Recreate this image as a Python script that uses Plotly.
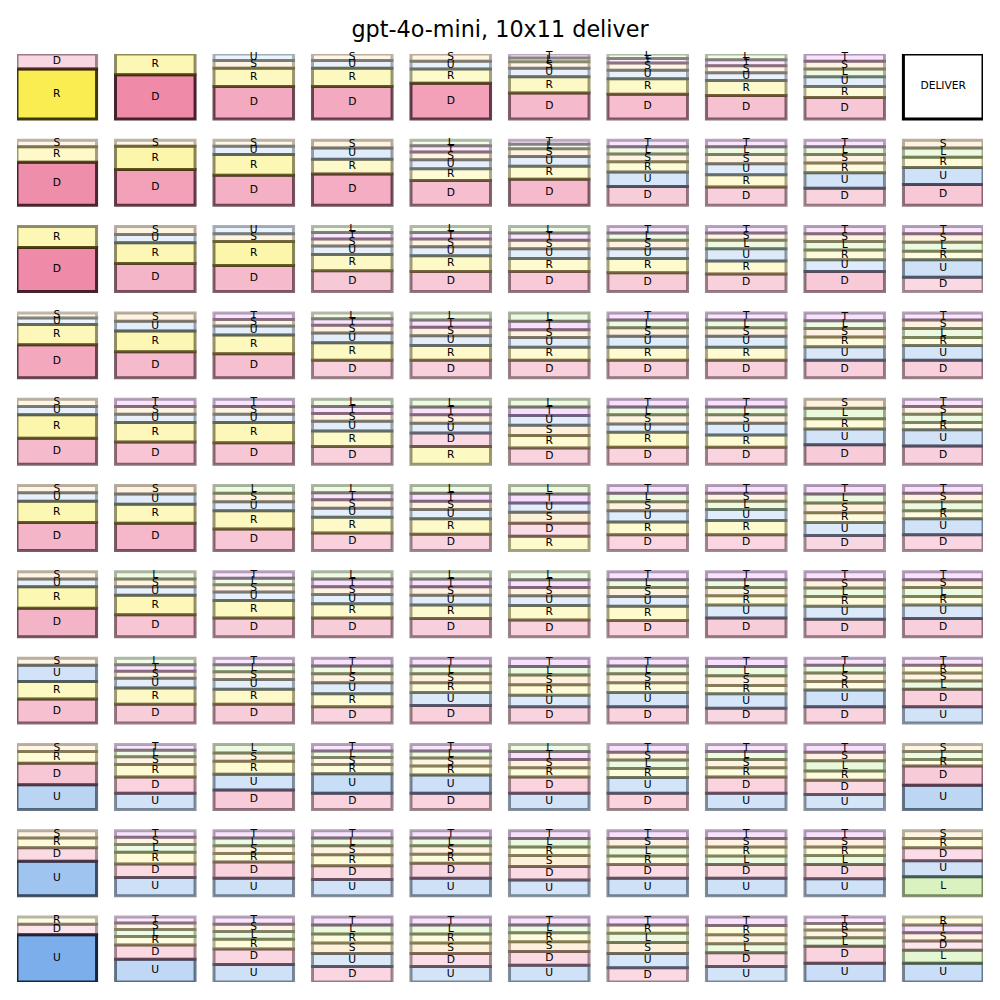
import plotly.graph_objects as go

TITLE = "gpt-4o-mini, 10x11 deliver"
ACTIONS = ["D", "R", "U", "S", "L", "T"]
GOAL = (0, 9)
GOAL_LABEL = "DELIVER"

# probabilities per action, rows top->bottom, columns left->right
P_D = [
    [.23, .68, .50, .50, .55, .40, .38, .36, .33, 0],
    [.66, .55, .46, .48, .38, .40, .29, .28, .26, .32],
    [.68, .43, .40, .32, .31, .31, .29, .27, .31, .22],
    [.51, .40, .37, .27, .27, .27, .27, .27, .27, .27],
    [.40, .34, .33, .27, .21, .25, .26, .26, .30, .28],
    [.43, .42, .33, .27, .25, .20, .24, .24, .23, .24],
    [.44, .34, .29, .29, .28, .26, .25, .29, .27, .28],
    [.37, .29, .29, .25, .27, .25, .25, .23, .25, .27],
    [.33, .25, .30, .25, .25, .25, .25, .25, .22, .30],
    [.21, .21, .25, .21, .23, .21, .21, .21, .22, .20],
    [.16, .22, .24, .24, .20, .21, .22, .21, .26, .14],
]
P_R = [
    [.77, .32, .28, .28, .22, .25, .24, .23, .17, 0],
    [.24, .36, .32, .23, .18, .20, .16, .19, .15, .16],
    [.32, .32, .37, .25, .24, .20, .22, .20, .15, .13],
    [.31, .32, .29, .27, .23, .20, .20, .20, .15, .12],
    [.36, .30, .31, .24, .27, .19, .23, .19, .16, .11],
    [.33, .29, .28, .24, .24, .22, .20, .22, .15, .12],
    [.33, .30, .27, .22, .21, .22, .22, .14, .15, .13],
    [.27, .25, .23, .20, .15, .16, .15, .13, .13, .12],
    [.18, .19, .20, .14, .14, .14, .14, .14, .14, .10],
    [.15, .18, .13, .17, .14, .13, .13, .14, .13, .14],
    [.11, .13, .15, .14, .14, .14, .13, .14, .10, .12],
]
P_U = [
    [0, 0, .10, .12, .12, .13, .13, .12, .15, 0],
    [0, 0, .13, .17, .14, .15, .22, .17, .24, .26],
    [0, .13, .11, .13, .14, .15, .15, .19, .18, .27],
    [.10, .15, .14, .15, .15, .15, .17, .17, .21, .23],
    [.13, .13, .13, .15, .15, .15, .13, .18, .24, .25],
    [.13, .16, .14, .14, .14, .14, .17, .17, .20, .25],
    [.12, .13, .13, .14, .15, .15, .15, .20, .20, .21],
    [.25, .15, .15, .17, .20, .18, .22, .22, .26, .25],
    [.38, .25, .24, .30, .28, .25, .24, .25, .23, .37],
    [.53, .28, .27, .25, .27, .24, .27, .27, .26, .25],
    [.73, .35, .27, .20, .24, .26, .22, .24, .29, .29],
]
P_S = [
    [0, 0, .12, .10, .11, .10, .11, .11, .12, 0],
    [.10, .09, .09, .12, .12, .12, .12, .14, .13, .12],
    [0, .12, .12, .11, .12, .13, .13, .11, .12, .13],
    [.08, .13, .10, .12, .13, .12, .13, .13, .13, .13],
    [.11, .12, .12, .12, .13, .16, .14, .13, .14, .12],
    [.11, .13, .13, .13, .13, .17, .14, .12, .15, .13],
    [.11, .12, .11, .12, .13, .13, .14, .13, .13, .12],
    [.11, .11, .12, .14, .14, .15, .14, .15, .13, .12],
    [.11, .12, .13, .11, .12, .13, .12, .13, .13, .11],
    [.11, .11, .12, .14, .13, .17, .13, .13, .13, .12],
    [0, .10, .11, .16, .16, .15, .17, .14, .12, .13],
]
P_L = [
    [0, 0, 0, 0, 0, .06, .07, .09, .12, 0],
    [0, 0, 0, 0, .085, .07, .11, .12, .12, .14],
    [0, 0, 0, .09, .09, .10, .11, .13, .13, .14],
    [0, 0, 0, .09, .11, .13, .12, .12, .12, .14],
    [0, 0, 0, .11, .12, .12, .12, .12, .16, .13],
    [0, 0, .12, .11, .12, .13, .13, .13, .14, .14],
    [0, .11, .10, .11, .11, .12, .12, .12, .13, .14],
    [0, .10, .11, .12, .12, .13, .12, .14, .12, .13],
    [0, .10, .13, .10, .11, .11, .13, .12, .16, .12],
    [0, .12, .12, .12, .12, .13, .14, .13, .14, .29],
    [0, .11, .12, .14, .14, .12, .14, .14, .13, .20],
]
P_T = [
    [0, 0, 0, 0, 0, .06, .07, .09, .11, 0],
    [0, 0, 0, 0, .095, .06, .10, .10, .10, 0],
    [0, 0, 0, .10, .10, .11, .10, .10, .11, .11],
    [0, 0, .10, .10, .11, .13, .11, .11, .12, .11],
    [0, .11, .11, .11, .12, .13, .12, .12, 0, .11],
    [0, 0, 0, .11, .12, .14, .12, .12, .13, .12],
    [0, 0, .10, .12, .12, .12, .12, .12, .12, .12],
    [0, .10, .10, .12, .12, .13, .12, .13, .11, .11],
    [0, .09, 0, .10, .10, .12, .12, .11, .12, 0],
    [0, .10, .11, .11, .11, .12, .12, .12, .12, 0],
    [0, .09, .11, .12, .12, .12, .12, .13, .10, .12],
]
# stacking order of actions in each cell, bottom -> top
ORDER = [
    ["RD", "DR", "DRSU", "DRUS", "DRUS", "DRUSLT", "DRUSTL", "DRUSTL", "DRULST", ""],
    ["DRS", "DRS", "DRUS", "DRUS", "DRUSTL", "DRUSLT", "DURSLT", "DRUSLT", "DURSLT", "DURLS"],
    ["DR", "DRUS", "DRSU", "DRUSTL", "DRUSTL", "DRUSTL", "DRUSLT", "DRULST", "DURLST", "DURLST"],
    ["DRUS", "DRUS", "DRUST", "DRUSTL", "DRUSTL", "DRUSTL", "DRUSLT", "DRUSLT", "DURSLT", "DURLST"],
    ["DRUS", "DRUST", "DRUST", "DRUSTL", "RDUSTL", "DRSUTL", "DRUSLT", "DRUSLT", "DURLS", "DURLST"],
    ["DRUS", "DRUS", "DRUSL", "DRUSTL", "DRUSTL", "RDSUTL", "DRUSLT", "DRULST", "DURSLT", "DURLST"],
    ["DRUS", "DRUSL", "DRUSLT", "DRUSTL", "DRUSTL", "DRUSTL", "DRUSLT", "DURSLT", "DURLST", "DURLST"],
    ["DRUS", "DRUSTL", "DRUSLT", "DRUSLT", "DURSLT", "DURSLT", "DURSLT", "DURSLT", "DURSLT", "UDLSRT"],
    ["UDRS", "UDRSLT", "DURSL", "DURSLT", "DURSLT", "UDRSTL", "DURLST", "UDRSLT", "UDRLST", "UDRLS"],
    ["UDRS", "UDRLST", "UDRSLT", "UDRSLT", "UDRSLT", "UDSRLT", "UDRLST", "UDLRST", "UDLRST", "LUDRS"],
    ["UDR", "UDRLST", "UDRLST", "DUSRLT", "UDSRLT", "UDSRLT", "DUSLRT", "UDLSRT", "UDLSRT", "ULDSTR"],
]

COLORS = {"D": "#e75480", "R": "#f8e71c", "U": "#4a90e2",
          "S": "#f5a623", "L": "#7ed321", "T": "#bd10e0"}
PROBS = {"D": P_D, "R": P_R, "U": P_U, "S": P_S, "L": P_L, "T": P_T}

N_ROWS = len(ORDER)
N_COLS = len(ORDER[0])
ROW_STEP = 1.33
BAR_W = 0.808
FONT = "DejaVu Sans"


def hex_rgb(h):
    h = h.lstrip("#")
    return tuple(int(h[i:i + 2], 16) for i in (0, 2, 4))


def rgba(rgb, a):
    return "rgba(%d,%d,%d,%.3f)" % (rgb[0], rgb[1], rgb[2], a)


xs, bases, heights, fills, edges = [], [], [], [], []
tx, ty, tt = [], [], []
for r in range(N_ROWS):
    for c in range(N_COLS):
        if (r, c) == GOAL:
            continue
        y0 = (N_ROWS - 1 - r) * ROW_STEP
        total = sum(PROBS[a][r][c] for a in ACTIONS)
        cum = 0.0
        for a in ORDER[r][c]:
            p = PROBS[a][r][c]
            if p <= 0:
                continue
            h = p / total
            rgb = hex_rgb(COLORS[a])
            dark = tuple(v * 0.25 for v in rgb)
            xs.append(c)
            bases.append(y0 + cum)
            heights.append(h)
            fills.append(rgba(rgb, h))
            edges.append(rgba(dark, min(1.0, 0.25 + h)))
            tx.append(c)
            ty.append(y0 + cum + h / 2)
            tt.append(a)
            cum += h

fig = go.Figure()
fig.add_trace(go.Bar(
    x=xs, y=heights, base=bases, width=BAR_W,
    marker=dict(color=fills, line=dict(color=edges, width=3)),
    cliponaxis=False, hoverinfo="skip", showlegend=False,
))
gr, gc = GOAL
gy = (N_ROWS - 1 - gr) * ROW_STEP
fig.add_trace(go.Bar(
    x=[gc], y=[1], base=[gy], width=BAR_W,
    marker=dict(color="white", line=dict(color="black", width=3)),
    cliponaxis=False, hoverinfo="skip", showlegend=False,
))
fig.add_trace(go.Scatter(
    x=tx + [gc], y=ty + [gy + 0.5], text=tt + [GOAL_LABEL], mode="text",
    textfont=dict(family=FONT, size=10.7, color="black"),
    cliponaxis=False, hoverinfo="skip", showlegend=False,
))

ytop = (N_ROWS - 1) * ROW_STEP + 1
fig.update_layout(
    width=1000, height=1000,
    barmode="overlay",
    paper_bgcolor="white", plot_bgcolor="white",
    margin=dict(l=16.5, r=17.2, t=53.8, b=17.5, pad=0),
    xaxis=dict(range=[-BAR_W / 2, N_COLS - 1 + BAR_W / 2], visible=False, fixedrange=True),
    yaxis=dict(range=[0, ytop], visible=False, fixedrange=True),
    title=dict(text=TITLE, x=0.5, xanchor="center", y=1 - 29 / 1000, yanchor="middle",
               yref="container", font=dict(family=FONT, size=22.3, color="black")),
    showlegend=False,
)
fig.write_html("out.html")
